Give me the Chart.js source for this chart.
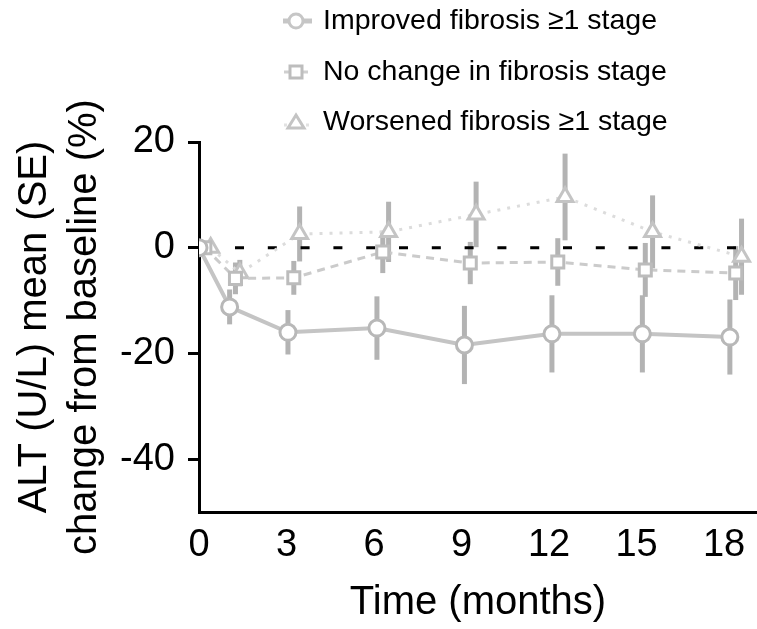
<!DOCTYPE html>
<html>
<head>
<meta charset="utf-8">
<script src="https://cdn.jsdelivr.net/npm/chart.js@4.4.0/dist/chart.umd.min.js"></script>
<style>
html,body{margin:0;padding:0;background:#fff;}
#wrap{width:757px;height:629px;position:relative;}
canvas{display:block;}
</style>
</head>
<body>
<div id="wrap"><canvas id="c" width="757" height="629"></canvas></div>
<script>
// ---- data ----
const seriesNames = ["Improved fibrosis \u22651 stage", "No change in fibrosis stage", "Worsened fibrosis \u22651 stage"];

const improvedMonths = [0, 1.05, 3.05, 6.1, 9.1, 12.1, 15.2, 18.2];
const improvedMean   = [0, -11.2, -16.0, -15.2, -18.4, -16.3, -16.3, -16.9];
const improvedSE     = [0, 3.3, 4.2, 6.0, 7.4, 7.3, 7.3, 7.1];

const noChangeMonths = [0.2, 1.25, 3.25, 6.3, 9.3, 12.3, 15.3, 18.4];
const noChangeMean   = [0, -5.8, -5.7, -0.8, -2.9, -2.7, -4.2, -4.8];
const noChangeSE     = [0, 3.0, 3.2, 4.0, 4.0, 4.5, 5.1, 5.1];

const worsenedMonths = [0.4, 1.4, 3.45, 6.5, 9.5, 12.55, 15.55, 18.6];
const worsenedMean   = [0, -4.8, 2.6, 3.0, 6.3, 9.6, 3.0, -1.7];
const worsenedSE     = [0, 2.5, 5.2, 5.7, 6.2, 8.2, 6.9, 7.2];

const zeroLineMonths = [0.11, 18.5];
const zeroLineValues = [0, 0];

const xTicks = [0, 3, 6, 9, 12, 15, 18];
const yTicks = [20, 0, -20, -40];

const xTitle = "Time (months)";
const yTitle = ["ALT (U/L) mean (SE)", "change from baseline (%)"];

// ---- styling ----
const FONT = "'Liberation Sans', Arial, Helvetica, sans-serif";
const toPts = (xs, ys) => xs.map((x, i) => ({x: x, y: ys[i]}));

const errorBarPlugin = {
  id: 'errorBars',
  beforeDatasetsDraw(chart) {
    const ctx = chart.ctx;
    const xs = chart.scales.x, ys = chart.scales.y;
    ctx.save();
    chart.data.datasets.forEach((ds, di) => {
      if (!ds.se) return;
      if (!chart.isDatasetVisible(di)) return;
      ctx.strokeStyle = '#b3b3b3';
      ctx.lineWidth = 5;
      ctx.lineCap = 'butt';
      ds.data.forEach((p, i) => {
        const se = ds.se[i];
        if (!se) return;
        const px = xs.getPixelForValue(p.x);
        const y1 = ys.getPixelForValue(p.y + se);
        const y2 = ys.getPixelForValue(p.y - se);
        ctx.beginPath();
        ctx.moveTo(px, y1);
        ctx.lineTo(px, y2);
        ctx.stroke();
      });
    });
    ctx.restore();
  }
};

const legendPlugin = {
  id: 'customLegend',
  afterDraw(chart) {
    const ctx = chart.ctx;
    const mx = 296, tx = 323;
    const rows = [21, 72, 122];
    ctx.save();
    // row 1: circle with solid line
    ctx.strokeStyle = '#c6c6c6';
    ctx.lineWidth = 5;
    ctx.setLineDash([]);
    ctx.beginPath(); ctx.moveTo(283, rows[0]); ctx.lineTo(312, rows[0]); ctx.stroke();
    ctx.beginPath(); ctx.arc(mx, rows[0], 7, 0, Math.PI * 2);
    ctx.fillStyle = '#fff'; ctx.fill();
    ctx.lineWidth = 3; ctx.strokeStyle = '#c6c6c6'; ctx.stroke();
    // row 2: square with dashed stubs
    ctx.strokeStyle = '#cfcfcf';
    ctx.lineWidth = 3;
    ctx.beginPath(); ctx.moveTo(284, rows[1]); ctx.lineTo(290, rows[1]); ctx.moveTo(302, rows[1]); ctx.lineTo(308, rows[1]); ctx.stroke();
    ctx.fillStyle = '#fff';
    ctx.fillRect(mx - 6, rows[1] - 6, 12, 12);
    ctx.strokeStyle = '#bdbdbd';
    ctx.strokeRect(mx - 6, rows[1] - 6, 12, 12);
    // row 3: triangle with dotted stubs
    ctx.strokeStyle = '#e2e2e2';
    ctx.beginPath(); ctx.moveTo(284, rows[2] + 3); ctx.lineTo(287, rows[2] + 3); ctx.moveTo(306, rows[2] + 3); ctx.lineTo(309, rows[2] + 3); ctx.stroke();
    ctx.beginPath();
    ctx.moveTo(mx, rows[2] - 7);
    ctx.lineTo(mx + 8, rows[2] + 6);
    ctx.lineTo(mx - 8, rows[2] + 6);
    ctx.closePath();
    ctx.fillStyle = '#fff'; ctx.fill();
    ctx.strokeStyle = '#c4c4c4'; ctx.lineWidth = 3; ctx.stroke();
    // texts
    ctx.fillStyle = '#000';
    ctx.font = '28.5px ' + FONT;
    ctx.textBaseline = 'middle';
    ctx.textAlign = 'left';
    seriesNames.forEach((n, i) => ctx.fillText(n, tx, rows[i]));
    ctx.restore();
  }
};

const chart = new Chart(document.getElementById('c'), {
  type: 'line',
  data: {
    datasets: [
      {
        label: seriesNames[0],
        data: toPts(improvedMonths, improvedMean),
        se: improvedSE,
        borderColor: '#c4c4c4',
        borderWidth: 4,
        pointStyle: 'circle',
        pointRadius: 8,
        pointBorderWidth: 3,
        pointBorderColor: '#b8b8b8',
        pointBackgroundColor: '#fff',
        order: 1
      },
      {
        label: seriesNames[1],
        data: toPts(noChangeMonths, noChangeMean),
        se: noChangeSE,
        borderColor: '#cbcbcb',
        borderWidth: 3,
        borderDash: [8, 6],
        pointStyle: 'rect',
        pointRadius: 8.5,
        pointBorderWidth: 3,
        pointBorderColor: '#bcbcbc',
        pointBackgroundColor: '#fff',
        order: 2
      },
      {
        label: seriesNames[2],
        data: toPts(worsenedMonths, worsenedMean),
        se: worsenedSE,
        borderColor: '#dcdcdc',
        borderWidth: 3,
        borderDash: [3, 7],
        pointStyle: 'triangle',
        pointRadius: 9.2,
        pointBorderWidth: 3,
        pointBorderColor: '#c4c4c4',
        pointBackgroundColor: '#fff',
        order: 3
      },
      {
        label: 'zero',
        data: toPts(zeroLineMonths, zeroLineValues),
        borderColor: '#000',
        borderWidth: 3,
        borderDash: [9, 23.8],
        pointRadius: 0,
        order: 10
      }
    ]
  },
  options: {
    responsive: false,
    animation: false,
    devicePixelRatio: 1,
    layout: {autoPadding: false, padding: {top: 142, left: 0, right: 0, bottom: 0}},
    plugins: {
      legend: {display: false},
      tooltip: {enabled: false},
      title: {display: false}
    },
    elements: {line: {tension: 0}},
    scales: {
      x: {
        type: 'linear',
        min: 0,
        max: 19.13,
        afterBuildTicks: s => { s.ticks = xTicks.map(v => ({value: v})); },
        afterFit: s => { s.height = 117; },
        grid: {display: false, drawTicks: false, drawOnChartArea: false},
        border: {display: true, color: '#000', width: 3},
        ticks: {
          color: '#000',
          font: {family: FONT, size: 38},
          padding: 11,
          maxRotation: 0,
          autoSkip: false
        },
        title: {
          display: true,
          text: xTitle,
          color: '#000',
          font: {family: FONT, size: 40, lineHeight: 1.2},
          padding: {top: 0, bottom: 2}
        }
      },
      y: {
        type: 'linear',
        min: -50,
        max: 20,
        afterBuildTicks: s => { s.ticks = yTicks.map(v => ({value: v})); },
        afterFit: s => { s.width = 199; },
        grid: {display: true, drawOnChartArea: false, drawTicks: true, tickLength: 11, color: '#000', lineWidth: 3},
        border: {display: true, color: '#000', width: 3},
        ticks: {
          color: '#000',
          font: {family: FONT, size: 38},
          padding: 13,
          autoSkip: false
        },
        title: {
          display: true,
          text: yTitle,
          color: '#000',
          font: {family: FONT, size: 40, lineHeight: 1.25},
          padding: {top: 10, bottom: 0}
        }
      }
    }
  },
  plugins: [errorBarPlugin, legendPlugin]
});
</script>
</body>
</html>
